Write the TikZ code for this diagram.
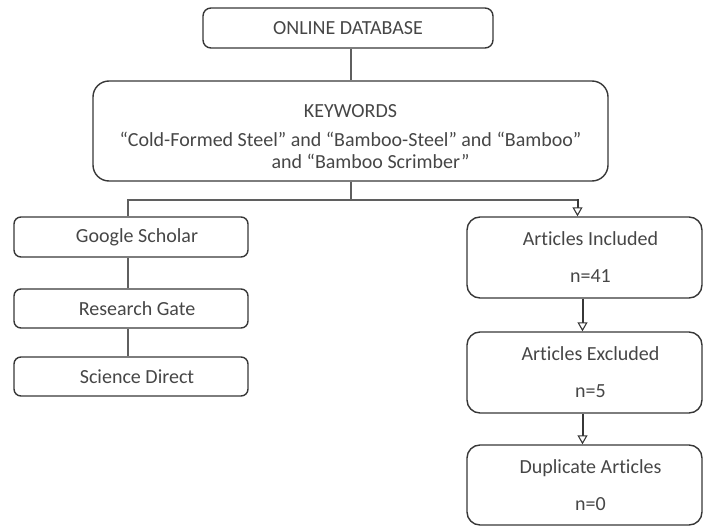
\documentclass[tikz,border=0pt]{standalone}
\usepackage{fontspec}
\setmainfont{Carlito}[Ligatures=NoCommon]
\usetikzlibrary{arrows.meta}
\definecolor{boxline}{RGB}{55,55,55}
\definecolor{wire}{RGB}{95,95,95}
\definecolor{ink}{RGB}{70,70,70}
\tikzset{
  box/.style={draw=boxline, line width=1.4pt, align=center, text=ink,
    font=\fontsize{20}{24}\selectfont, inner sep=0pt},
  link/.style={draw=wire, line width=1.2pt},
  flow/.style={draw=boxline, line width=2pt,
    -{Triangle[open,length=9pt,width=10pt,line width=1.1pt]}}
}
\begin{document}
\begin{tikzpicture}[x=1pt,y=-1pt]
  \useasboundingbox (0,0) rectangle (707,527);
  \node[box, rounded corners=8pt, minimum width=290pt, minimum height=40pt] (online) at (348,28) {ONLINE DATABASE};
  \node[box, rounded corners=16pt, minimum width=515pt, minimum height=100pt] (keywords) at (350.5,131)
    {\rule{0pt}{24pt}KEYWORDS\\[5pt]“Cold-Formed Steel” and “Bamboo-Steel” and “Bamboo”\\[-2pt] \hspace*{40pt}and “Bamboo Scrimber”};
  \node[box, rounded corners=7pt, minimum width=234pt, minimum height=40pt] (google) at (131,237) {\hspace*{12pt}Google Scholar};
  \node[box, rounded corners=7pt, minimum width=234pt, minimum height=39pt] (research) at (131,308.5) {\hspace*{12pt}Research Gate};
  \node[box, rounded corners=7pt, minimum width=234pt, minimum height=39pt] (science) at (131,376.5) {\hspace*{12pt}Science Direct};
  \node[box, rounded corners=13pt, minimum width=235pt, minimum height=81pt] (included) at (584.5,257.5) {\hspace*{12pt}Articles Included\\[13pt]\hspace*{12pt}n=41};
  \node[box, rounded corners=13pt, minimum width=235pt, minimum height=81pt] (excluded) at (584.5,372.5) {\hspace*{12pt}Articles Excluded\\[13pt]\hspace*{12pt}n=5};
  \node[box, rounded corners=13pt, minimum width=235pt, minimum height=80pt] (duplicate) at (584.5,485) {\hspace*{12pt}Duplicate Articles\\[13pt]\hspace*{12pt}n=0};
  \coordinate (split) at (351,200);
  \draw[link] (online.south -| split) -- (keywords.north -| split);
  \draw[link] (keywords.south -| split) -- (split);
  \draw[link] (split) -| ([xshift=-3pt]google.north);
  \draw[link] ([xshift=-3pt]google.south) -- ([xshift=-3pt]research.north);
  \draw[link] ([xshift=-3pt]research.south) -- ([xshift=-3pt]science.north);
  \draw[link] (split) -| ([xshift=-7pt,yshift=17pt]included.north);
  \draw[flow] ([xshift=-7pt,yshift=17pt]included.north) -- ([xshift=-7pt]included.north);
  \draw[flow] ([xshift=-2pt]included.south) -- ([xshift=-2pt]excluded.north);
  \draw[flow] ([xshift=-2pt]excluded.south) -- ([xshift=-2pt]duplicate.north);
\end{tikzpicture}
\end{document}
